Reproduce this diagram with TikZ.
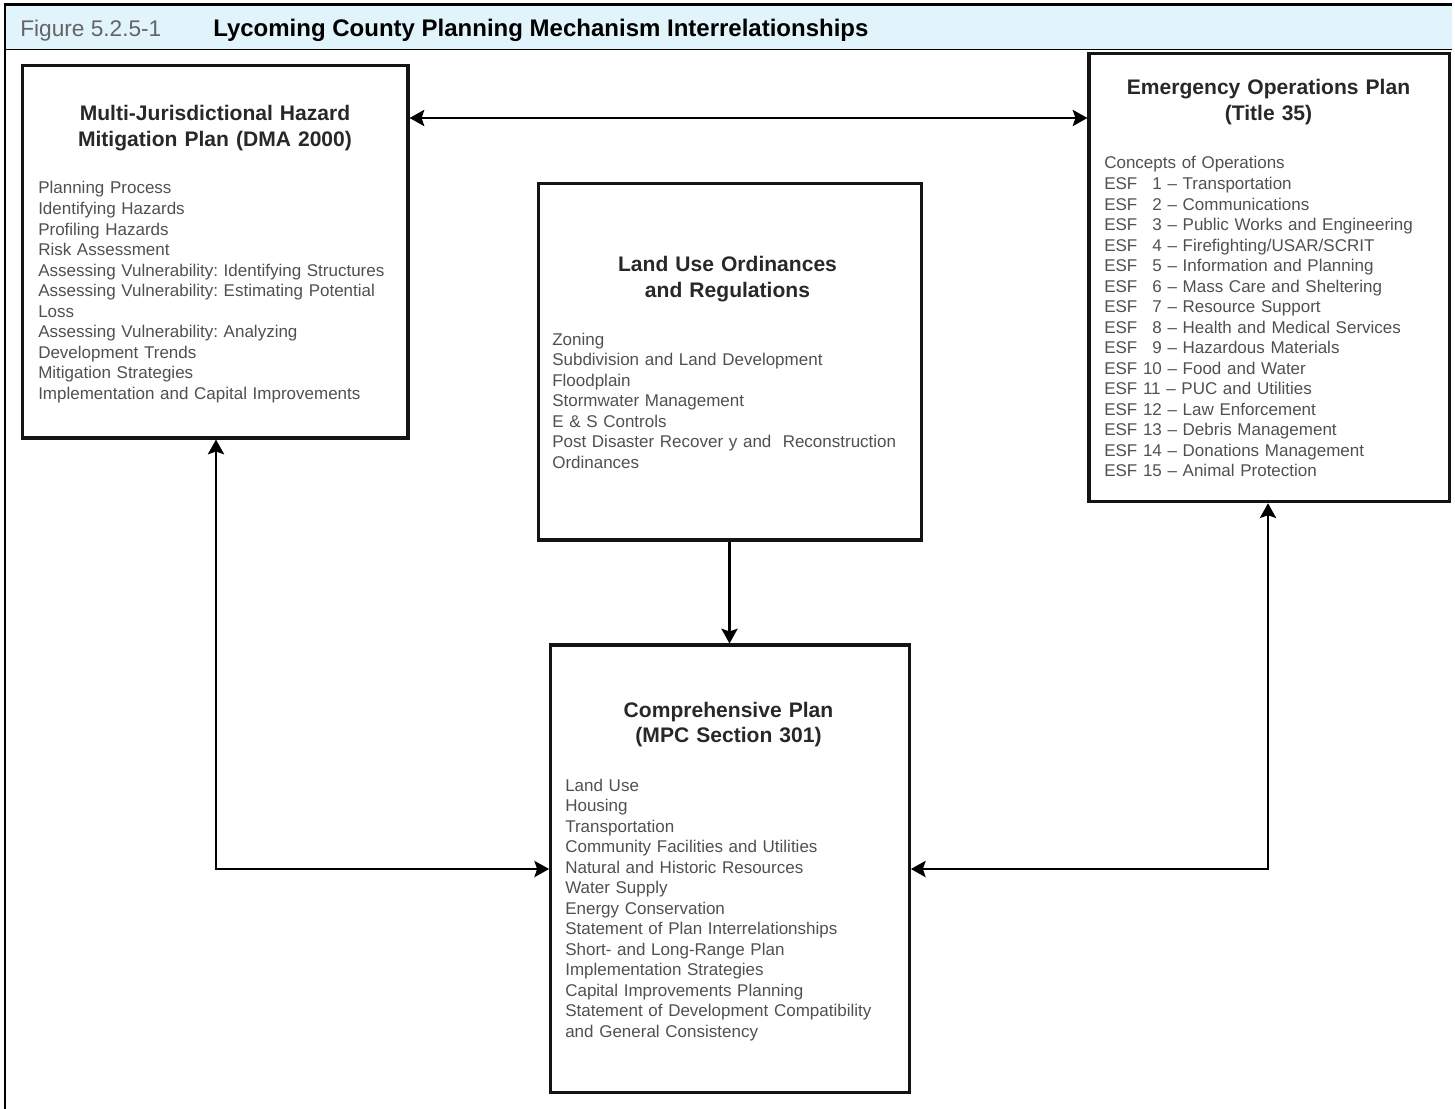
\documentclass[tikz,border=0pt]{standalone}
\usepackage{fontspec}
\setmainfont{Liberation Sans}
\usetikzlibrary{arrows.meta,fit}
\definecolor{hdrblue}{RGB}{225,244,252}
\definecolor{titlegray}{RGB}{40,40,40}
\definecolor{bodygray}{RGB}{80,80,80}
\definecolor{fignogray}{RGB}{100,100,100}
\frenchspacing
\begin{document}
\begin{tikzpicture}[x=0.75pt,y=-0.75pt,
  planbox/.style={draw=black!92,line width=2.3pt,inner sep=0pt},
  boxtitle/.style={anchor=base,align=center,text width=300pt,inner sep=0pt,text=titlegray,font=\fontsize{15.8}{19.1}\selectfont\bfseries},
  boxbody/.style={anchor=base west,align=left,text width=290pt,inner sep=0pt,text=bodygray,font=\fontsize{12.75}{15.4}\selectfont},
  twoway/.style={line width=2.2pt,{Stealth[length=11pt,width=12pt,inset=2pt]}-{Stealth[length=11pt,width=12pt,inset=2pt]}},
  oneway/.style={line width=2.2pt,-{Stealth[length=11pt,width=12pt,inset=2pt]}}
]
\useasboundingbox (0,0) rectangle (1455,1109);
% header
\fill[hdrblue] (5,4.5) rectangle (1452,49.5);
\draw[line width=1.8pt] (1452,4.5) -- (5,4.5) -- (5,1109);
\draw[line width=1.3pt] (5,49.5) -- (1452,49.5);
\node[anchor=base west,inner sep=0pt,text=fignogray,font=\fontsize{17}{20}\selectfont] (figno) at (20,36.5) {Figure 5.2.5-1};
\node[anchor=base west,inner sep=0pt,font=\fontsize{18}{21}\selectfont\bfseries] (figtitle) at (213,37) {Lycoming County Planning Mechanism Interrelationships};

% boxes
\node[planbox,fit={(22.7,65.7) (408,438)}] (mj) {};
\node[planbox,fit={(1089,53.5) (1449.5,501.7)}] (eop) {};
\node[planbox,fit={(538.3,183.3) (921.7,540)}] (land) {};
\node[planbox,fit={(550.7,645) (909.3,1092.7)}] (cp) {};

% box texts
\node[boxtitle] (mjtitle) at (215,121) {Multi-Jurisdictional Hazard\\Mitigation Plan (DMA 2000)};
\node[boxbody] (mjbody) at (38,194) {Planning Process\\Identifying Hazards\\Profiling Hazards\\Risk Assessment\\Assessing Vulnerability: Identifying Structures\\Assessing Vulnerability: Estimating Potential\\Loss\\Assessing Vulnerability: Analyzing\\Development Trends\\Mitigation Strategies\\Implementation and Capital Improvements};

\node[boxtitle] (eoptitle) at (1268.5,95) {Emergency Operations Plan\\(Title 35)};
\node[boxbody] (eopbody) at (1104,169) {Concepts of Operations\\
ESF \hphantom{0}1 -- Transportation\\
ESF \hphantom{0}2 -- Communications\\
ESF \hphantom{0}3 -- Public Works and Engineering\\
ESF \hphantom{0}4 -- Firefighting/USAR/SCRIT\\
ESF \hphantom{0}5 -- Information and Planning\\
ESF \hphantom{0}6 -- Mass Care and Sheltering\\
ESF \hphantom{0}7 -- Resource Support\\
ESF \hphantom{0}8 -- Health and Medical Services\\
ESF \hphantom{0}9 -- Hazardous Materials\\
ESF 10 -- Food and Water\\
ESF 11 -- PUC and Utilities\\
ESF 12 -- Law Enforcement\\
ESF 13 -- Debris Management\\
ESF 14 -- Donations Management\\
ESF 15 -- Animal Protection};

\node[boxtitle] (landtitle) at (727.5,272) {Land Use Ordinances\\and Regulations};
\node[boxbody] (landbody) at (552,345) {Zoning\\Subdivision and Land Development\\Floodplain\\Stormwater Management\\E \& S Controls\\Post Disaster Recover y and \ Reconstruction\\Ordinances};

\node[boxtitle] (cptitle) at (728.5,717) {Comprehensive Plan\\(MPC Section 301)};
\node[boxbody] (cpbody) at (565,791) {Land Use\\Housing\\Transportation\\Community Facilities and Utilities\\Natural and Historic Resources\\Water Supply\\Energy Conservation\\Statement of Plan Interrelationships\\Short- and Long-Range Plan\\Implementation Strategies\\Capital Improvements Planning\\Statement of Development Compatibility\\and General Consistency};

% connectors
\coordinate (hy) at (0,118);
\coordinate (vx) at (729.5,0);
\coordinate (lc) at (216,869);
\coordinate (rc) at (1268,869);
\draw[twoway] (mj.east |- hy) -- (eop.west |- hy);
\draw[oneway] (land.south -| vx) -- (cp.north -| vx);
\draw[twoway] (mj.south -| lc) |- (cp.west |- lc);
\draw[twoway] (eop.south -| rc) |- (cp.east |- rc);
\end{tikzpicture}
\end{document}
